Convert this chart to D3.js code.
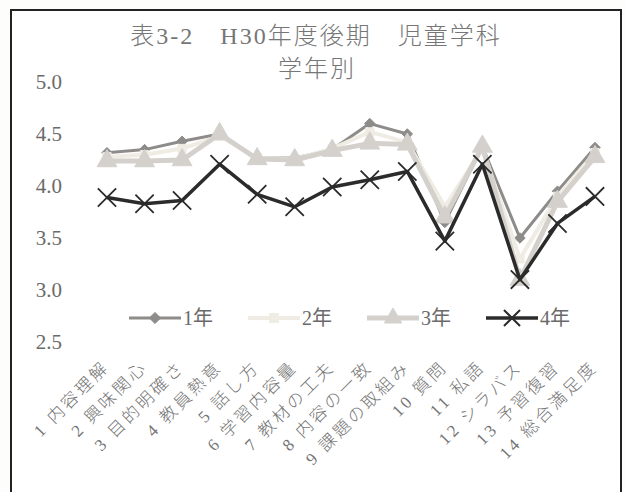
<!DOCTYPE html>
<html>
<head>
<meta charset="utf-8">
<script src="https://cdn.jsdelivr.net/npm/d3@7"></script>
<style>
  html, body { margin: 0; padding: 0; background: #fdfdfc; }
  svg text { font-family: "Liberation Serif", "Noto Sans CJK JP", serif; }
</style>
</head>
<body>
<div id="chart"></div>
<script>
const categories = ["1 内容理解", "2 興味関心", "3 目的明確さ", "4 教員熱意", "5 話し方",
    "6 学習内容量", "7 教材の工夫", "8 内容の一致", "9 課題の取組み", "10 質問",
    "11 私語", "12 シラバス", "13 予習復習", "14 総合満足度"];
const year1 = [4.32, 4.35, 4.43, 4.50, 4.27, 4.27, 4.35, 4.60, 4.50, 3.65, 4.38, 3.50, 3.95, 4.37];
const year2 = [4.28, 4.30, 4.36, 4.48, 4.27, 4.26, 4.36, 4.52, 4.42, 3.80, 4.36, 3.30, 3.90, 4.32];
const year3 = [4.24, 4.24, 4.25, 4.50, 4.26, 4.25, 4.34, 4.41, 4.40, 3.70, 4.38, 3.10, 3.85, 4.28];
const year4 = [3.89, 3.83, 3.86, 4.21, 3.92, 3.80, 3.99, 4.06, 4.14, 3.47, 4.21, 3.10, 3.64, 3.90];
const yTicks = [2.5, 3.0, 3.5, 4.0, 4.5, 5.0];

const width = 625, height = 492;

const series = [
    { name: "1年", values: year1, color: "#8e8c8a", stroke: 3, marker: "diamond" },
    { name: "2年", values: year2, color: "#efece4", stroke: 4, marker: "square" },
    { name: "3年", values: year3, color: "#d4d1cd", stroke: 5, marker: "triangle" },
    { name: "4年", values: year4, color: "#2b2b2b", stroke: 3.5, marker: "cross" }
];

const svg = d3.select("#chart").append("svg")
    .attr("width", width)
    .attr("height", height);

// frame
svg.append("rect")
    .attr("x", 11).attr("y", 10)
    .attr("width", 610).attr("height", 500)
    .attr("fill", "#fff")
    .attr("stroke", "#222")
    .attr("stroke-width", 2);

// title
svg.append("text")
    .attr("x", 316).attr("y", 44)
    .attr("text-anchor", "middle")
    .attr("fill", "#767676")
    .attr("font-size", 24)
    .attr("font-weight", 300)
    .style("letter-spacing", "2px")
    .text("表3-2　H30年度後期　児童学科");
svg.append("text")
    .attr("x", 317).attr("y", 77)
    .attr("text-anchor", "middle")
    .attr("fill", "#767676")
    .attr("font-size", 24)
    .attr("font-weight", 300)
    .style("letter-spacing", "2px")
    .text("学年別");

const x = d3.scalePoint().domain(categories).range([107, 595]);
const y = d3.scaleLinear().domain([2.5, 5.0]).range([342, 82]);

// y axis
const yAxis = svg.append("g")
    .attr("transform", "translate(62,0)")
    .call(d3.axisLeft(y).tickValues(yTicks).tickFormat(d3.format(".1f")).tickSize(0).tickPadding(0));
yAxis.select(".domain").remove();
yAxis.selectAll("text")
    .attr("font-size", 21)
    .attr("fill", "#6a6a6a")
    .style("font-family", "'Liberation Serif', serif");

// x axis labels
const xAxis = svg.append("g")
    .attr("transform", "translate(0,360)")
    .call(d3.axisBottom(x).tickSize(0).tickPadding(0));
xAxis.select(".domain").remove();
xAxis.selectAll("text")
    .attr("text-anchor", "end")
    .attr("dy", "0")
    .attr("y", 0)
    .attr("transform", "translate(3,8) rotate(-45)")
    .attr("font-size", 17)
    .attr("font-weight", 300)
    .attr("fill", "#747474")
    .style("letter-spacing", "3px")
    .style("font-family", "'Liberation Serif', 'Noto Sans CJK JP', serif");

function markerPath(type, size) {
    if (type === "diamond") return d3.symbol().type(d3.symbolDiamond2).size(size)();
    if (type === "square") return d3.symbol().type(d3.symbolSquare).size(size)();
    if (type === "triangle") return d3.symbol().type(d3.symbolTriangle).size(size)();
    return d3.symbol().type(d3.symbolTimes).size(size)();
}

const line = d3.line()
    .x((d, i) => x(categories[i]))
    .y(d => y(d));

for (const s of series) {
    const g = svg.append("g");
    g.append("path")
        .datum(s.values)
        .attr("d", line)
        .attr("fill", "none")
        .attr("stroke", s.color)
        .attr("stroke-width", s.stroke)
        .attr("stroke-linejoin", "round");

    g.selectAll(".m")
        .data(s.values)
        .enter()
        .append("path")
        .attr("transform", (d, i) => `translate(${x(categories[i])},${y(d)})`)
        .attr("d", markerPath(s.marker, s.marker === "triangle" ? 170 : (s.marker === "cross" ? 220 : 70)))
        .attr("fill", s.marker === "cross" ? "none" : s.color)
        .attr("stroke", s.color)
        .attr("stroke-width", s.marker === "cross" ? 1.8 : 1);
}

// legend
const legendX = [129, 248, 367, 486];
const legend = svg.append("g").attr("transform", "translate(0,318)");
series.forEach((s, i) => {
    const lg = legend.append("g").attr("transform", `translate(${legendX[i]},0)`);
    lg.append("line")
        .attr("x1", 0).attr("x2", 52)
        .attr("y1", 0).attr("y2", 0)
        .attr("stroke", s.color)
        .attr("stroke-width", s.stroke);
    lg.append("path")
        .attr("transform", "translate(26,0)")
        .attr("d", markerPath(s.marker, s.marker === "triangle" ? 130 : (s.marker === "cross" ? 170 : 80)))
        .attr("fill", s.marker === "cross" ? "none" : s.color)
        .attr("stroke", s.color)
        .attr("stroke-width", s.marker === "cross" ? 2 : 1);
    lg.append("text")
        .attr("x", 54).attr("y", 7)
        .attr("font-size", 20)
        .attr("fill", "#6a6a6a")
        .text(s.name);
});
</script>
</body>
</html>
